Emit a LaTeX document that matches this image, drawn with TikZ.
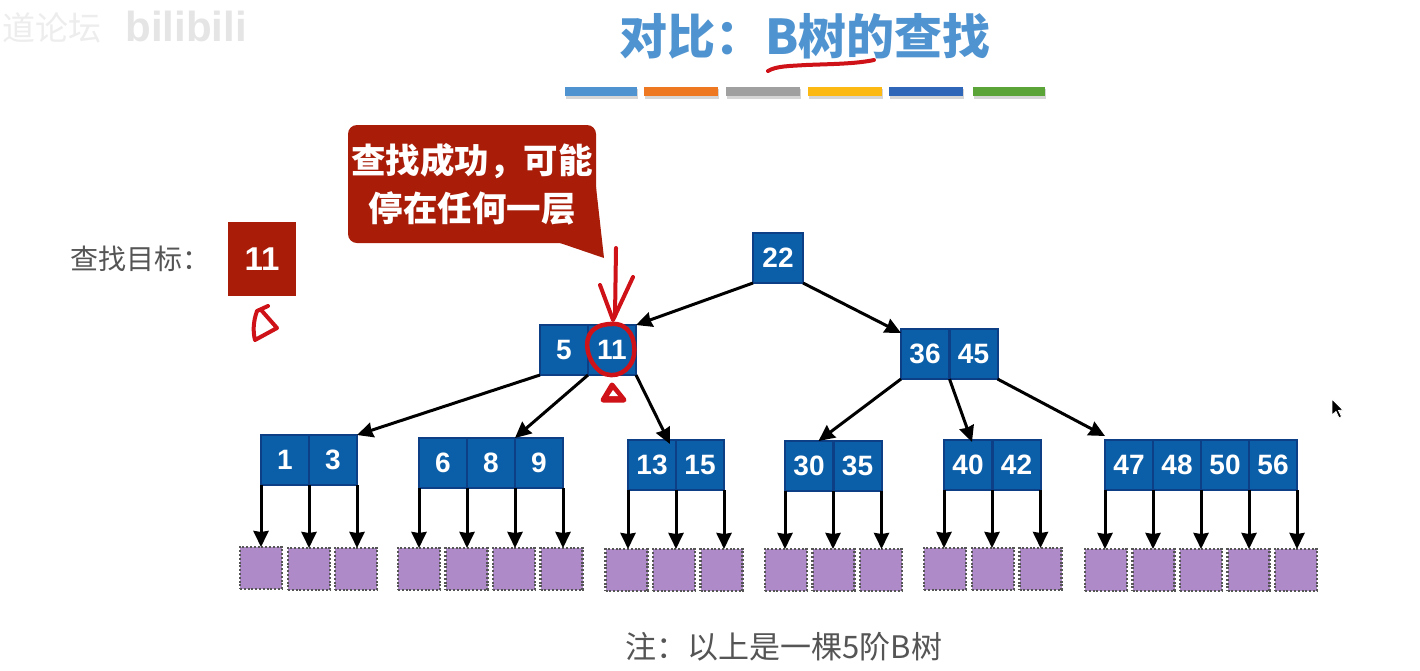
\documentclass[tikz,border=0pt]{standalone}
\usepackage{fontspec}
\setmainfont{Liberation Sans}
\newfontfamily\cjk{Noto Sans CJK SC}
\usetikzlibrary{arrows.meta}
\definecolor{titleblue}{HTML}{4F94D0}
\definecolor{cellblue}{HTML}{0B5FA8}
\definecolor{celledge}{HTML}{0C3F86}
\definecolor{leafpurple}{HTML}{AE8BC8}
\definecolor{darkred}{HTML}{A81C08}
\definecolor{inkred}{HTML}{CF1218}
\definecolor{labelgrey}{HTML}{555555}
\definecolor{barorange}{HTML}{EE7722}
\definecolor{bargrey}{HTML}{A0A0A0}
\definecolor{baryellow}{HTML}{FDB913}
\definecolor{barblue}{HTML}{2F66B8}
\definecolor{bargreen}{HTML}{5BA437}
\tikzset{
  bcell/.style={draw=celledge,fill=cellblue,line width=2pt,anchor=north west,inner sep=0pt,outer sep=0pt,
    minimum width=48pt,minimum height=50pt,text=white,font=\fontsize{28}{28}\selectfont\bfseries},
  bleaf/.style={draw=labelgrey,fill=leafpurple,line width=2.4pt,dash pattern=on 2pt off 1.8pt,anchor=north west,
    inner sep=0pt,outer sep=0pt,minimum width=42pt,minimum height=42pt},
  barr/.style={draw=black,line width=3pt,-{Stealth[length=16pt,width=15pt,inset=1pt]}},
  ink/.style={draw=inkred,line width=4pt,line cap=round,line join=round},
  tbar/.style={anchor=north west,inner sep=0pt,outer sep=0pt,minimum height=9pt},
  shadowbar/.style={fill=black!16}
}
\newcommand{\tbarnode}[4]{%
  \fill[shadowbar] (#1+1,89) rectangle (#2+1,99);
  \node[tbar,fill=#3,minimum width=#2pt-#1pt] (#4) at (#1,87) {};}
\begin{document}
\begin{tikzpicture}[x=1pt,y=-1pt]
\useasboundingbox (0,0) rectangle (1420,670);
\fill[white] (0,0) rectangle (1420,670);
% watermark
\node[text=black!7,font=\fontsize{33}{33}\selectfont\cjk] (wm1) at (52,28) {道论坛};
\node[text=black!10,font=\fontsize{42}{42}\selectfont\bfseries] (wm2) at (186,26) {bilibili};
% title
\node[text=titleblue,inner sep=0pt,font=\fontsize{48}{48}\selectfont\cjk\bfseries] (title) at (805,36) {对比：\hspace{2pt}B树的查找};
\tbarnode{565}{637}{titleblue}{b1}
\tbarnode{644}{718}{barorange}{b2}
\tbarnode{726}{800}{bargrey}{b3}
\tbarnode{808}{882}{baryellow}{b4}
\tbarnode{889}{963}{barblue}{b5}
\tbarnode{973}{1045}{bargreen}{b6}
% target
\node[text=labelgrey,font=\fontsize{28}{28}\selectfont\cjk] (tlabel) at (140,259) {查找目标：};
\node[fill=darkred,draw=darkred,anchor=north west,minimum width=67pt,minimum height=73pt,inner sep=0pt,outer sep=0pt,text=white,font=\fontsize{33}{33}\selectfont\bfseries] (target) at (228.5,222.5) {11};
% callout
\fill[darkred,rounded corners=9pt] (348,125) rectangle (596,243);
\fill[darkred] (560,243) -- (604,258) -- (596,187) -- (580,190) -- cycle;
\node[text=white,align=center,inner sep=0pt,font=\fontsize{34.5}{48}\selectfont\cjk\bfseries] (callout) at (472,184) {查找成功，可能\\停在任何一层};
% tree nodes
\node[bcell,minimum width=50pt] (r) at (753,233) {22};
\node[bcell] (a1) at (540,325) {5};
\node[bcell] (a2) at (588,325) {11};
\node[bcell] (c1) at (901,329) {36};
\node[bcell] (c2) at (949.5,329) {45};
\node[bcell] (p1) at (261,435) {1};
\node[bcell] (p2) at (309,435) {3};
\node[bcell] (q1) at (419,438) {6};
\node[bcell] (q2) at (467,438) {8};
\node[bcell] (q3) at (515,438) {9};
\node[bcell] (s1) at (628,440) {13};
\node[bcell] (s2) at (676,440) {15};
\node[bcell] (t1) at (785,441) {30};
\node[bcell] (t2) at (833.5,441) {35};
\node[bcell] (u1) at (944,440) {40};
\node[bcell] (u2) at (992.5,440) {42};
\node[bcell] (v1) at (1105,440) {47};
\node[bcell] (v2) at (1153,440) {48};
\node[bcell] (v3) at (1201,440) {50};
\node[bcell] (v4) at (1249,440) {56};
% leaves
\foreach \n/\x/\y in {l1/240/547,l2/288/548,l3/335/548,
  l4/398/548,l5/445.5/548,l6/493/548,l7/540.5/548,
  l8/605.5/549,l9/653/549,l10/700.5/549,
  l11/765/549,l12/812.5/549,l13/860/549,
  l14/924/548,l15/972/548,l16/1019.5/548,
  l17/1085/549,l18/1132.5/549,l19/1180/549,l20/1227.5/549,l21/1275/549}{
  \node[bleaf] (\n) at (\x,\y) {};
}
% tree arrows
\draw[barr] (r.south west) -- (a2.north east);
\draw[barr] (r.south east) -- ([yshift=-4pt]c1.north west);
\draw[barr] (a1.south west) -- (p2.north east);
\draw[barr] (a2.south west) -- (q3.north west);
\draw[barr] (a2.south east) -- ([xshift=-6pt,yshift=-4pt]s2.north west);
\draw[barr] (c1.south west) -- ([xshift=-15pt]t2.north west);
\draw[barr] (c2.south west) -- ([xshift=28pt,yshift=-2pt]u1.north west);
\draw[barr] (c2.south east) -- ([yshift=4pt]v1.north west);
% leaf arrows
\foreach \c/\l in {p1.south west/l1,p1.south east/l2,p2.south east/l3,
  q1.south west/l4,q1.south east/l5,q2.south east/l6,q3.south east/l7,
  s1.south west/l8,s1.south east/l9,s2.south east/l10,
  t1.south west/l11,t1.south east/l12,t2.south east/l13,
  u1.south west/l14,u1.south east/l15,u2.south east/l16,
  v1.south west/l17,v1.south east/l18,v2.south east/l19,v3.south east/l20,v4.south east/l21}{
  \draw[barr] (\c) -- (\c |- \l.north);
}
% note
\node[text=labelgrey,font=\fontsize{31}{31}\selectfont\cjk] (note) at (784,647) {注：以上是一棵5阶B树};
% ink
\draw[ink] (768,71) .. controls (776,66) and (790,66) .. (806,65) .. controls (830,64) and (855,64) .. (874,60);
\draw[ink] (616,248) -- (615,316);
\draw[ink] (600,285) -- (613,320) -- (633,277);
\draw[ink,line width=4.5pt] (610,324) .. controls (630,322) and (636,340) .. (634,355) .. controls (631,372) and (614,380) .. (601,372) .. controls (587,362) and (583,340) .. (592,331) .. controls (598,325) and (606,324) .. (612,324);
\draw[ink,line width=5pt,fill=inkred] (612,385) -- (603,400) -- (624,400) -- cycle;
\fill[white] (613,390) -- (609,396) -- (618,396) -- cycle;
\draw[ink] (268,306) -- (257,311) .. controls (253,322) and (253,332) .. (255,340) -- (277,328) -- (262,311);
% cursor
\path[draw=white,line width=.8pt,fill=black] (1332,399) -- (1332,415) -- (1336,411.5) -- (1339,418) -- (1341.5,416.5) -- (1338.5,410.5) -- (1343,410) -- cycle;
\end{tikzpicture}
\end{document}
